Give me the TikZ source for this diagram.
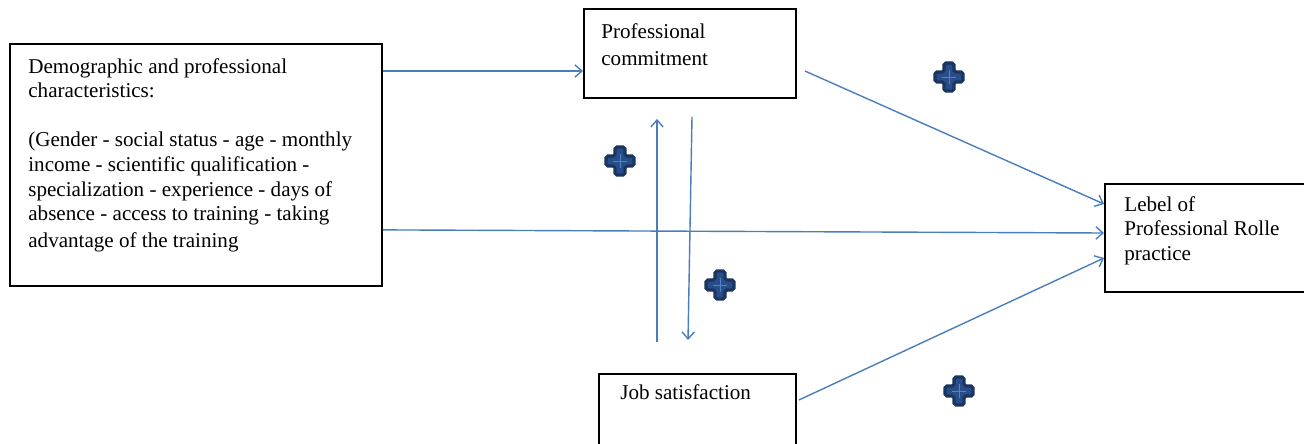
\documentclass[tikz,border=0pt]{standalone}
\usepackage{fontspec}
\setmainfont{Liberation Serif}
\usetikzlibrary{positioning, calc, arrows.meta}

\definecolor{arrowblue}{HTML}{4A7EBB}
\definecolor{plusdark}{HTML}{1C3560}
\definecolor{plusfill}{HTML}{274E88}
\definecolor{pluslight}{HTML}{4F84CC}

\tikzset{
  box/.style={draw, line width=1.1pt, inner sep=0pt, anchor=north west},
  boxtext/.style={anchor=north west, inner sep=0pt, align=left, font=\fontsize{12}{14}\selectfont},
  link/.style={-{Straight Barb[length=4pt, width=7pt]}, arrowblue, line width=0.8pt},
  plussign/.pic={
    \filldraw[fill=plusfill, draw=plusdark, line width=1.8pt, rounded corners=1]
      (-5,-14) -- (5,-14) -- (5,-5) -- (14,-5) -- (14,5) -- (5,5) -- (5,14)
      -- (-5,14) -- (-5,5) -- (-14,5) -- (-14,-5) -- (-5,-5) -- cycle;
    \draw[pluslight, line width=0.5pt] (-7,0) -- (7,0) (0,-7) -- (0,7);
  },
}

\begin{document}
\begin{tikzpicture}[x=0.02cm, y=-0.02cm]

        \useasboundingbox (0,0) rectangle (1304,443);
        \clip (0,0) rectangle (1304,443);

        % boxes
        \node[box, minimum width=7.44cm, minimum height=4.84cm] (demo) at (9,43) {};
        \node[box, minimum width=4.24cm, minimum height=1.78cm] (commit) at (583,8) {};
        \node[box, minimum width=3.94cm, minimum height=1.8cm] (job) at (598,373) {};
        \node[box, minimum width=4.6cm, minimum height=2.16cm] (level) at (1104,183) {};

        \node[boxtext] (demotext) at ($(demo.north west)+(19,15)$) {Demographic and professional\\
          characteristics:\\[14pt]
          (Gender - social status - age - monthly\\
          income - scientific qualification -\\
          specialization - experience - days of\\
          absence - access to training - taking\\[1pt]
          advantage of the training};
        \node[boxtext, font=\fontsize{12}{15.5}\selectfont] (committext) at ($(commit.north west)+(18,15)$) {Professional\\commitment};
        \node[boxtext] (jobtext) at ($(job.north west)+(22,11)$) {Job satisfaction};
        \node[boxtext] (leveltext) at ($(level.north west)+(20,13)$) {Lebel of\\Professional Rolle\\practice};

        % connectors
        \draw[link] ($(demo.north east)+(0,28)$) -- ($(commit.north west)+(0,63)$);
        \draw[link] ($(demo.south east)+(0,-57)$) -- ($(level.north west)+(0,50)$);
        \draw[link] ($(commit.north east)+(8,63)$) -- ($(level.north west)+(0,21)$);
        \draw[link] ($(job.north east)+(2,27)$) -- ($(level.north west)+(0,75)$);
        \draw[link] ($(job.north west)+(59,-31)$) -- ($(commit.south west)+(74,20)$);
        \draw[link] ($(commit.south west)+(109,18)$) -- ($(job.north west)+(90,-33)$);

        % plus signs
        \foreach \p in {(949,77), (620,161), (720,285), (959,391)}
          \pic at \p {plussign};

\end{tikzpicture}
\end{document}
